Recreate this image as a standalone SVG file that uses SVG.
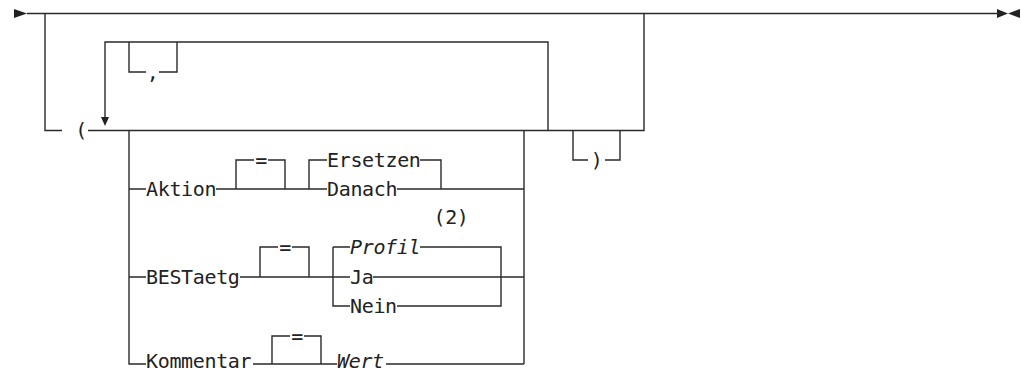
<svg xmlns="http://www.w3.org/2000/svg" width="1021" height="373" viewBox="0 0 1021 373">
<style>
.l{stroke:#2a2a2a;stroke-width:1.4;fill:none}
.a{fill:#222;stroke:none}
.t{font-family:"DejaVu Sans Mono","Liberation Mono",monospace;font-size:20px;fill:#222;letter-spacing:-0.35px}
.i{font-style:italic}
.m{text-anchor:middle}
</style>
<rect width="1021" height="373" fill="#fff"/>
<g id="connectors">
<polygon class="a" points="14,9 27,13.5 14,18"/>
<polygon class="a" points="997,9 1008,13.5 997,18"/>
<polygon class="a" points="1020,9 1008,13.5 1020,18"/>
<path class="l" d="M27,13.5 H1000"/>
<path class="l" d="M45,13.5 V130.5 H62"/>
<path class="l" d="M88,130.5 H644 V13.5"/>
<path class="l" d="M548,130.5 V42 H105 V118"/>
<polygon class="a" points="101,117 109,117 105,126"/>
<path class="l" d="M129,42 V72 H146 M159,72 H177 V42"/>
<path class="l" d="M129,130.5 V364 H146"/>
<path class="l" d="M524,130.5 V364"/>
<path class="l" d="M129,189 H146 M216,189 H236 M236,189 V160 H254 M268,160 H285 V189 M236,189 H327"/>
<path class="l" d="M309,189 V160 H327 M420,160 H441 V189 M397,189 H524"/>
<path class="l" d="M129,277 H146 M240,277 H260 M260,277 V247 H278 M292,247 H309 V277 M260,277 H350"/>
<path class="l" d="M333,247 V306 H350 M333,247 H350 M420,247 H501 V306 H397 M373,277 H524"/>
<path class="l" d="M253,364 H272 M272,364 V336 H290 M304,336 H321 V364 M272,364 H337 M386,364 H524"/>
<path class="l" d="M573,130.5 V160 H588 M605,160 H620 V130.5"/>
</g>
<g id="n_open"><text class="t m" x="81" y="137">(</text></g>
<g id="n_comma"><text class="t m" x="152.5" y="79">,</text></g>
<g id="n_close"><text class="t m" x="596.5" y="167">)</text></g>
<g id="n_aktion"><text class="t" x="146" y="196">Aktion</text></g>
<g id="n_eq1"><text class="t m" x="261" y="167">=</text></g>
<g id="n_ersetzen"><text class="t" x="327" y="167">Ersetzen</text></g>
<g id="n_danach"><text class="t" x="327" y="196">Danach</text></g>
<g id="n_note"><text class="t m" x="451" y="224">(2)</text></g>
<g id="n_best"><text class="t" x="146" y="284">BESTaetg</text></g>
<g id="n_eq2"><text class="t m" x="285" y="254">=</text></g>
<g id="n_profil"><text class="t i" x="350" y="254">Profil</text></g>
<g id="n_ja"><text class="t" x="350" y="284">Ja</text></g>
<g id="n_nein"><text class="t" x="350" y="313">Nein</text></g>
<g id="n_kommentar"><text class="t" x="146" y="368">Kommentar</text></g>
<g id="n_eq3"><text class="t m" x="297" y="343">=</text></g>
<g id="n_wert"><text class="t i" x="337" y="368">Wert</text></g>
</svg>
